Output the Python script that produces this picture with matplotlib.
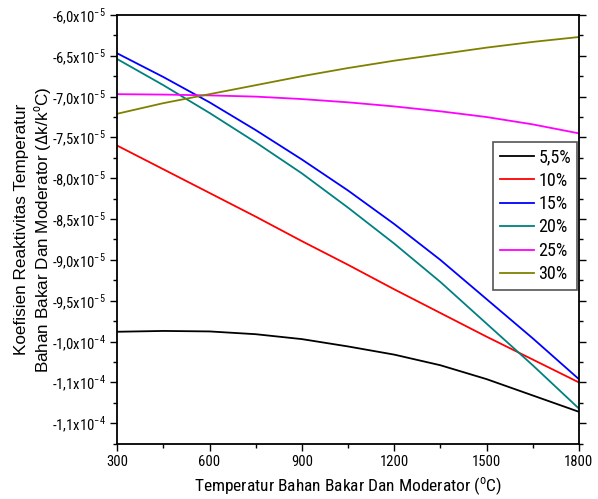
import matplotlib
matplotlib.use("Agg")
import matplotlib.pyplot as plt
from matplotlib.ticker import MultipleLocator, FixedLocator

NARROW = 'Roboto Condensed'
plt.rcParams['font.family'] = ['Liberation Sans', 'DejaVu Sans']
plt.rcParams['mathtext.fontset'] = 'custom'
plt.rcParams['mathtext.rm'] = NARROW

temperature = [300, 450, 600, 750, 900, 1050, 1200, 1350, 1500, 1650, 1800]
# values in units of 1e-5 dk/k°C
s_5_5 = [-9.88, -9.87, -9.876, -9.91, -9.97, -10.06, -10.16, -10.29, -10.46, -10.66, -10.86]
s_10 = [-7.60, -7.89, -8.18, -8.47, -8.77, -9.06, -9.36, -9.65, -9.94, -10.22, -10.50]
s_15 = [-6.47, -6.76, -7.07, -7.41, -7.77, -8.15, -8.56, -9.00, -9.48, -9.96, -10.46]
s_20 = [-6.54, -6.86, -7.20, -7.56, -7.94, -8.36, -8.80, -9.27, -9.78, -10.29, -10.82]
s_25 = [-6.97, -6.975, -6.985, -7.00, -7.03, -7.07, -7.12, -7.18, -7.25, -7.34, -7.45]
s_30 = [-7.21, -7.08, -6.97, -6.86, -6.75, -6.65, -6.56, -6.48, -6.40, -6.33, -6.27]

series_labels = ['5,5%', '10%', '15%', '20%', '25%', '30%']
series_colors = ['black', 'red', 'blue', '#008080', 'magenta', '#808000']

ytick_values = [-6.0, -6.5, -7.0, -7.5, -8.0, -8.5, -9.0, -9.5, -10.0, -10.5, -11.0]
ytick_labels = [r'-6,0x10$^{-5}$', r'-6,5x10$^{-5}$', r'-7,0x10$^{-5}$', r'-7,5x10$^{-5}$',
                r'-8,0x10$^{-5}$', r'-8,5x10$^{-5}$', r'-9,0x10$^{-5}$', r'-9,5x10$^{-5}$',
                r'-1,0x10$^{-4}$', r'-1,1x10$^{-4}$', r'-1,1x10$^{-4}$']
xticks = [300, 600, 900, 1200, 1500, 1800]

fig = plt.figure(figsize=(5.98, 4.99), dpi=100)
ax = fig.add_axes([0.196, 0.111, 0.772, 0.859])

for ys, lab, col in zip([s_5_5, s_10, s_15, s_20, s_25, s_30], series_labels, series_colors):
    ax.plot(temperature, ys, color=col, lw=1.3, label=lab)

ax.set_xlim(300, 1800)
ax.set_ylim(-11.25, -6.0)
ax.xaxis.set_major_locator(FixedLocator(xticks))
ax.xaxis.set_minor_locator(MultipleLocator(150))
ax.yaxis.set_major_locator(FixedLocator(ytick_values))
ax.yaxis.set_minor_locator(MultipleLocator(0.25))
ax.set_yticklabels(ytick_labels, family=NARROW, fontsize=10.5)
ax.set_xticklabels([str(t) for t in xticks], family=NARROW, fontsize=10.5)
ax.tick_params(axis='both', which='major', direction='out', length=5, width=1)
ax.tick_params(axis='both', which='minor', direction='out', length=3, width=1)
ax.tick_params(axis='y', which='both', right=True)
for sp in ax.spines.values():
    sp.set_linewidth(1.3)

ax.set_xlabel(r'Temperatur Bahan Bakar Dan Moderator ($^{\mathrm{o}}$C)', fontsize=12.5,
              family=NARROW, labelpad=4)
ax.set_ylabel('Koefisien Reaktivitas Temperatur\n' + r'Bahan Bakar Dan Moderator ($\Delta$k/k$^{\mathrm{o}}$C)',
              fontsize=12.3, linespacing=1.25)
ax.yaxis.set_label_coords(-0.18, 0.5)
ax.yaxis.label.set_va('center')

leg = ax.legend(loc='upper right', bbox_to_anchor=(0.997, 0.704),
                prop={'family': NARROW, 'size': 13},
                frameon=True, fancybox=False, edgecolor='#555555', framealpha=1,
                handlelength=1.9, handletextpad=0.25, labelspacing=0.3, borderpad=0.35,
                borderaxespad=0)
leg.get_frame().set_linewidth(1.2)

fig.savefig('out.png', dpi=100)
